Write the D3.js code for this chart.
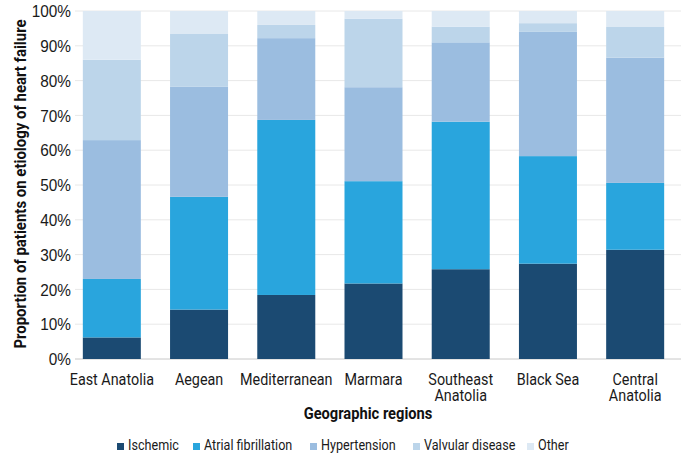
<!DOCTYPE html>
<html>
<head>
<meta charset="utf-8">
<script src="https://cdn.jsdelivr.net/npm/d3@7"></script>
<style>
  body { margin: 0; background: #fff; }
  svg { font-family: Roboto, "Noto Sans", sans-serif; }
</style>
</head>
<body>
<div id="chart"></div>
<script>
const regions = [["East Anatolia"], ["Aegean"], ["Mediterranean"], ["Marmara"],
  ["Southeast", "Anatolia"], ["Black Sea"], ["Central", "Anatolia"]];
const series = ["Ischemic", "Atrial fibrillation", "Hypertension", "Valvular disease", "Other"];
const colors = ["#1b4a72", "#29a5dd", "#9bbde0", "#bcd5ea", "#dde9f4"];

const ischemic     = [6.2, 14.2, 18.4, 21.7, 25.8, 27.4, 31.4];
const atrialFib    = [16.8, 32.4, 50.3, 29.4, 42.4, 30.9, 19.2];
const hypertension = [39.9, 31.7, 23.5, 27.0, 22.8, 35.7, 36.0];
const valvular     = [23.1, 15.1, 3.8, 19.7, 4.5, 2.5, 8.8];
const other        = [14.0, 6.6, 4.0, 2.2, 4.5, 3.5, 4.6];
const yTicks = [0, 10, 20, 30, 40, 50, 60, 70, 80, 90, 100];

const width = 685, height = 456;
const margin = {top: 11, right: 6, bottom: 97, left: 68};

const rows = regions.map((r, i) => ({
  key: r.join(" "),
  lines: r,
  "Ischemic": ischemic[i],
  "Atrial fibrillation": atrialFib[i],
  "Hypertension": hypertension[i],
  "Valvular disease": valvular[i],
  "Other": other[i]
}));

const stacked = d3.stack().keys(series)(rows);

const x = d3.scaleBand()
  .domain(rows.map(d => d.key))
  .range([margin.left, width - margin.right])
  .paddingInner(0.335)
  .paddingOuter(0.17);

const y = d3.scaleLinear()
  .domain([0, 100])
  .range([height - margin.bottom, margin.top]);

const color = d3.scaleOrdinal().domain(series).range(colors);

const svg = d3.select("#chart").append("svg")
  .attr("width", width)
  .attr("height", height);

// gridlines
svg.append("g")
  .selectAll("line")
  .data(yTicks)
  .join("line")
  .attr("x1", 75)
  .attr("x2", 681)
  .attr("y1", d => y(d))
  .attr("y2", d => y(d))
  .attr("stroke", d => d === 0 ? "#c8c8c8" : "#e8e8e8")
  .attr("stroke-width", 1);

// bars
svg.append("g")
  .selectAll("g")
  .data(stacked)
  .join("g")
  .attr("fill", d => color(d.key))
  .selectAll("rect")
  .data(d => d)
  .join("rect")
  .attr("x", d => x(d.data.key))
  .attr("width", x.bandwidth())
  .attr("y", d => y(d[1]))
  .attr("height", d => y(d[0]) - y(d[1]));

// y axis
const yAxis = svg.append("g")
  .attr("transform", `translate(${margin.left + 3},0)`)
  .call(d3.axisLeft(y).tickValues(yTicks).tickFormat(d => d + "%").tickSize(0).tickPadding(0));
yAxis.select(".domain").remove();
yAxis.selectAll("text")
  .attr("font-size", 16)
  .attr("fill", "#1a1a1a")
  .attr("font-family", null)
  .attr("x", 0)
  .attr("dy", "0.36em")
  .attr("transform", "scale(0.96,1)");

// x axis labels, one text per line
const xLabels = svg.append("g")
  .selectAll("g")
  .data(rows)
  .join("g")
  .attr("transform", d => `translate(${x(d.key) + x.bandwidth() / 2},384.5)`);
xLabels.selectAll("text")
  .data(d => d.lines)
  .join("text")
  .attr("transform", (d, i) => `translate(0,${i * 16}) scale(0.87,1)`)
  .attr("text-anchor", "middle")
  .attr("font-size", 16.5)
  .attr("fill", "#1a1a1a")
  .text(d => d);

// axis titles
svg.append("text")
  .attr("transform", "translate(368,419) scale(0.89,1)")
  .attr("text-anchor", "middle")
  .attr("font-size", 16.5)
  .attr("font-weight", "bold")
  .attr("fill", "#111")
  .text("Geographic regions");

svg.append("text")
  .attr("transform", "translate(26,184) rotate(-90) scale(0.88,1)")
  .attr("text-anchor", "middle")
  .attr("font-size", 17)
  .attr("font-weight", "bold")
  .attr("fill", "#111")
  .text("Proportion of patients on etiology of heart failure");

// legend
const legendX = [117, 193, 310, 413, 527];
const legend = svg.append("g")
  .selectAll("g")
  .data(series)
  .join("g")
  .attr("transform", (d, i) => `translate(${legendX[i]},450)`);
legend.append("rect")
  .attr("y", -7)
  .attr("width", 7)
  .attr("height", 7)
  .attr("fill", d => color(d));
legend.append("text")
  .attr("transform", "translate(11,0) scale(0.84,1)")
  .attr("font-size", 15)
  .attr("fill", "#1a1a1a")
  .text(d => d);
</script>
</body>
</html>
